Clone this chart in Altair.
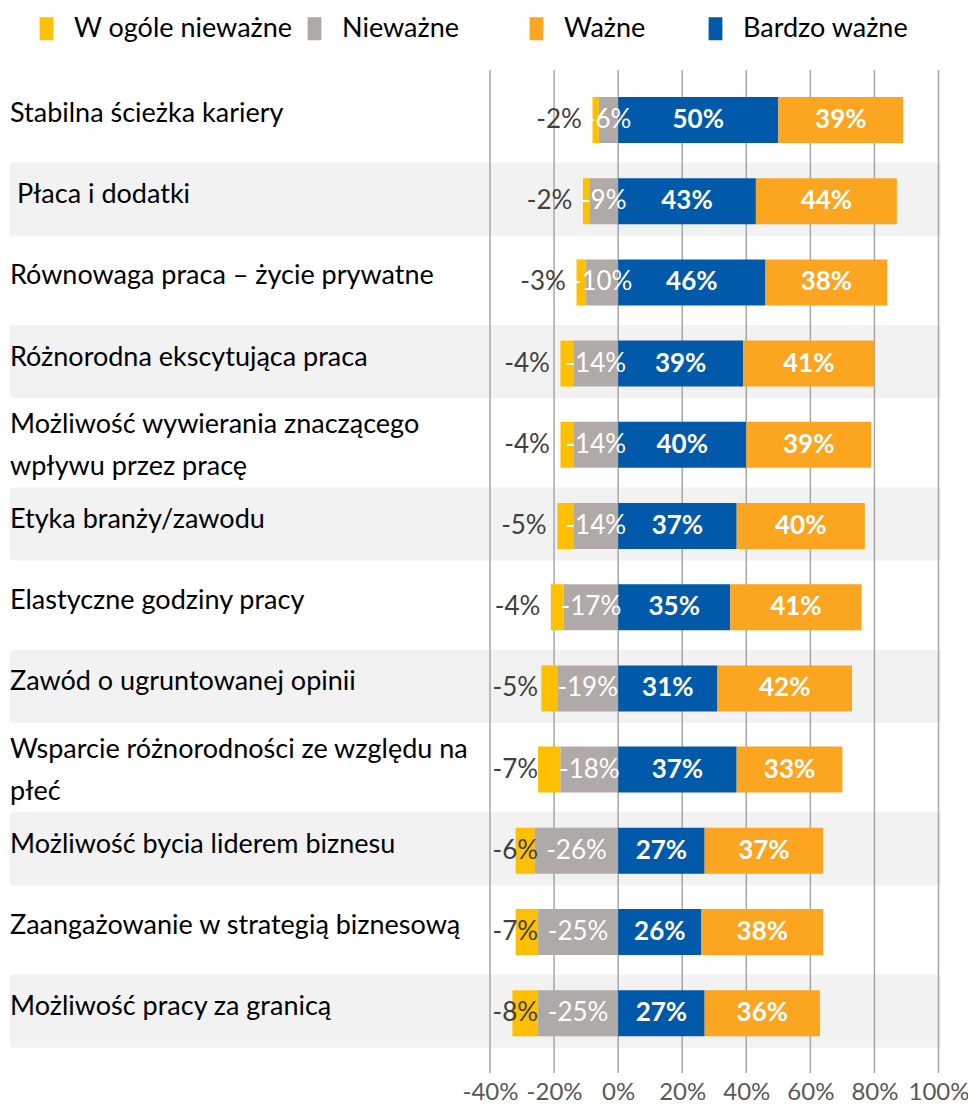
import altair as alt
import pandas as pd

categories = [
    "Stabilna ścieżka kariery",
    " Płaca i dodatki",
    "Równowaga praca – życie prywatne",
    "Różnorodna ekscytująca praca",
    "Możliwość wywierania znaczącego\nwpływu przez pracę",
    "Etyka branży/zawodu",
    "Elastyczne godziny pracy",
    "Zawód o ugruntowanej opinii",
    "Wsparcie różnorodności ze względu na\npłeć",
    "Możliwość bycia liderem biznesu",
    "Zaangażowanie w strategią biznesową",
    "Możliwość pracy za granicą",
]
w_ogole_niewazne = [-2, -2, -3, -4, -4, -5, -4, -5, -7, -6, -7, -8]
niewazne = [-6, -9, -10, -14, -14, -14, -17, -19, -18, -26, -25, -25]
bardzo_wazne = [50, 43, 46, 39, 40, 37, 35, 31, 37, 27, 26, 27]
wazne = [39, 44, 38, 41, 39, 40, 41, 42, 33, 37, 38, 36]

series = ["W ogóle nieważne", "Nieważne", "Ważne", "Bardzo ważne"]
colors = ["#FFC000", "#AFA9A7", "#FCA521", "#0059A9"]
ticks = [-40, -20, 0, 20, 40, 60, 80, 100]

NB = "\u00a0"
WJ = "\u2060"  # word joiner: keeps leading/trailing non-breaking spaces from being trimmed

recs = []
for i, c in enumerate(categories):
    g, y, b, o = niewazne[i], w_ogole_niewazne[i], bardzo_wazne[i], wazne[i]
    recs.append(dict(row=c, series="W ogóle nieważne", start=g + y, end=g, value=y))
    recs.append(dict(row=c, series="Nieważne", start=g, end=0, value=g))
    recs.append(dict(row=c, series="Bardzo ważne", start=0, end=b, value=b))
    recs.append(dict(row=c, series="Ważne", start=b, end=b + o, value=o))
df = pd.DataFrame(recs)
df["label"] = df["value"].astype(str) + "%"

label_text = [(WJ + NB + c[1:]) if c.startswith(" ") else c for c in categories]
labels_df = pd.DataFrame({"row": categories, "text": label_text})
bands_df = pd.DataFrame({"row": categories[1::2]})
ticks_df = pd.DataFrame({"tick": ticks})

W, H = 932, 1003
FONT = "Lato"

xscale = alt.Scale(domain=[-40, 100], range=[480, 928.5], nice=False, zero=False)
yscale = alt.Scale(domain=categories, range=[9.4, 983.8], paddingInner=0, paddingOuter=0)
Y = alt.Y("row:N", sort=categories, scale=yscale, axis=None)

xaxis = alt.Axis(
    values=ticks,
    labelExpr="datum.value + '%'",
    grid=False,
    ticks=False,
    domain=False,
    labelFont=FONT,
    labelFontSize=24,
    labelColor="#595959",
    labelPadding=7,
    labelOverlap=False,
    labelFlush=False,
    title=None,
)


def X(field):
    return alt.X(field, scale=xscale, axis=xaxis)


bands = alt.Chart(bands_df).mark_bar(
    size=73, color="#F2F2F2", yOffset=-2, cornerRadius=3
).encode(y=Y, x=alt.value(0), x2=alt.value(931))

grid = alt.Chart(ticks_df).mark_rule(color="#A6A6A6", strokeWidth=1.5).encode(
    x=X("tick:Q"), y=alt.value(0), y2=alt.value(H)
)

legend_expr = (
    "datum.label == 'Nieważne' ? 'Nieważne" + NB * 8 + WJ + "' : "
    "datum.label == 'Ważne' ? 'Ważne" + NB * 7 + WJ + "' : datum.label"
)

bars = alt.Chart(df).mark_bar(size=46).encode(
    y=Y,
    x=X("start:Q"),
    x2="end:Q",
    color=alt.Color(
        "series:N",
        scale=alt.Scale(domain=series, range=colors),
        legend=alt.Legend(
            title=None,
            orient="none",
            legendX=23,
            legendY=-55,
            direction="horizontal",
            symbolType="M-0.6,-1H0.6V1H-0.6Z",
            symbolSize=529,
            symbolStrokeWidth=0,
            symbolOpacity=1,
            labelFont=FONT,
            labelFontSize=27,
            labelColor="#000000",
            labelOffset=14,
            labelLimit=600,
            labelExpr=legend_expr,
            columnPadding=8,
        ),
    ),
)

yellow_lab = alt.Chart(df).transform_filter(
    alt.datum.series == "W ogóle nieważne"
).transform_calculate(lab_x="max(datum.start - 3.3, -25)").mark_text(
    align="right", baseline="middle", font=FONT, fontSize=26, color="#404040"
).encode(x=X("lab_x:Q"), y=Y, text="label:N")

gray_lab = alt.Chart(df).transform_filter(
    alt.datum.series == "Nieważne"
).transform_calculate(mid="(datum.start + datum.end) / 2").mark_text(
    align="center", baseline="middle", font=FONT, fontSize=26, color="#FFFFFF"
).encode(x=X("mid:Q"), y=Y, text="label:N")

pos_lab = alt.Chart(df).transform_filter(
    (alt.datum.series == "Ważne") | (alt.datum.series == "Bardzo ważne")
).transform_calculate(mid="(datum.start + datum.end) / 2").mark_text(
    align="center", baseline="middle", font=FONT, fontSize=26, fontWeight="bold", color="#FFFFFF"
).encode(x=X("mid:Q"), y=Y, text="label:N")

single_lab = alt.Chart(labels_df).transform_filter(
    "indexof(datum.text, '\\n') < 0"
).mark_text(
    align="left", baseline="middle", font=FONT, fontSize=27, dy=-6, color="#000000"
).encode(x=alt.value(0), y=Y, text="text:N")

multi_lab = alt.Chart(labels_df).transform_filter(
    "indexof(datum.text, '\\n') >= 0"
).mark_text(
    align="left", baseline="middle", font=FONT, fontSize=27, lineBreak="\n",
    lineHeight=42, dy=-20, color="#000000"
).encode(x=alt.value(0), y=Y, text="text:N")

chart = alt.layer(
    bands, grid, bars, yellow_lab, gray_lab, pos_lab, single_lab, multi_lab
).properties(
    width=W,
    height=H,
    autosize="none",
    padding={"left": 2, "top": 62, "right": 26, "bottom": 30},
).configure_view(stroke=None)

chart.save("out.html", embed_options={"renderer": "svg", "actions": False})
